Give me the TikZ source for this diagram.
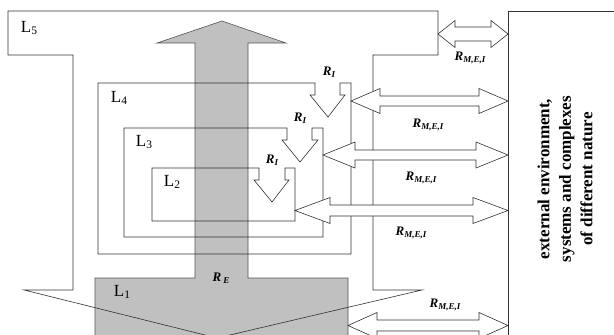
\documentclass[tikz,border=0pt]{standalone}
\usepackage{fontspec}
\setmainfont{Liberation Serif}
\definecolor{lin}{RGB}{50,50,50}
\definecolor{shade}{RGB}{192,192,192}
\definecolor{shadeline}{RGB}{85,85,85}
\tikzset{
  boxline/.style={draw=lin, line width=0.6pt},
  grayshape/.style={draw=shadeline, fill=shade, line width=0.6pt},
  dblarrow/.style={draw=lin, fill=white, line width=0.6pt},
  lvl/.style={inner sep=0pt, font=\fontsize{17}{17}\selectfont},
  rlab/.style={inner sep=0pt, font=\fontsize{13}{13}\selectfont\bfseries\itshape},
  envtext/.style={inner sep=0pt, rotate=90, align=center, font=\fontsize{17}{21.5}\selectfont\bfseries}
}
\newcommand\sbs[1]{\raisebox{-0.35ex}{\fontsize{9}{9}\selectfont #1}}
\newcommand\lsub[1]{\raisebox{-0.3ex}{\fontsize{11.5}{11.5}\selectfont #1}}
% double block arrow: x1, x2, yc, head length, head half height, shaft half height
\newcommand\dblarr[6]{%
  \draw[dblarrow] (#1,#3) -- ({#1+#4},{#3-#5}) -- ({#1+#4},{#3-#6}) -- ({#2-#4},{#3-#6})
   -- ({#2-#4},{#3-#5}) -- (#2,#3) -- ({#2-#4},{#3+#5}) -- ({#2-#4},{#3+#6})
   -- ({#1+#4},{#3+#6}) -- ({#1+#4},{#3+#5}) -- cycle;}
\begin{document}
\begin{tikzpicture}[x=1pt,y=-1pt]
\useasboundingbox (0,0) rectangle (614,335);
\begin{scope}
\clip (0,0) rectangle (614,335);
% big gray arrow with L1 block
\draw[grayshape] (222,21) -- (286,43) -- (248,43) -- (248,278) -- (348,278) -- (348,345)
  -- (95,345) -- (95,278) -- (195,278) -- (195,43) -- (157,43) -- cycle;
% L5 outline
\draw[boxline] (8,11) -- (438,11) -- (438,55) -- (373,55) -- (373,290) -- (422,290)
  -- (217,338) -- (24,290) -- (73,290) -- (73,55) -- (8,55) -- cycle;
% L4
\draw[boxline] (98,83) -- (315,83) -- (315,95) -- (310,95) -- (328,117) -- (345,95)
  -- (340,95) -- (340,83) -- (351,83) -- (351,254) -- (98,254) -- cycle;
% L3
\draw[boxline] (124,128) -- (287,128) -- (287,140) -- (282,140) -- (300,162) -- (318,140)
  -- (312,140) -- (312,128) -- (323,128) -- (323,237) -- (124,237) -- cycle;
% L2
\draw[boxline] (152,168) -- (259,168) -- (259,180) -- (254,180) -- (272,202) -- (289,180)
  -- (285,180) -- (285,168) -- (295,168) -- (295,221) -- (152,221) -- cycle;
% external environment box
\draw[boxline] (620,11) -- (508,11) -- (508,340);
% double arrows
\dblarr{438}{508}{34}{17}{13.5}{7}
\dblarr{351}{508}{101}{29}{12.5}{5}
\dblarr{323}{508}{155}{32}{13}{5}
\dblarr{295}{508}{210.5}{35}{13}{5.5}
\dblarr{348}{508}{325.5}{29}{13}{5.5}
\end{scope}
% labels
\node[lvl] (l5) at (29,28) {L\lsub{5}};
\node[lvl] (l4) at (119,98) {L\lsub{4}};
\node[lvl] (l3) at (144,142) {L\lsub{3}};
\node[lvl] (l2) at (172,182) {L\lsub{2}};
\node[lvl] (l1) at (122,292) {L\lsub{1}};
\node[rlab] (ri4) at (329,72) {R\sbs{I}};
\node[rlab] (ri3) at (300,118) {R\sbs{I}};
\node[rlab] (ri2) at (272,160) {R\sbs{I}};
\node[rlab] (re) at (221,278) {R\,\sbs{E}};
\node[rlab] (rm1) at (470,58) {R\sbs{M,E,I}};
\node[rlab] (rm2) at (428,125) {R\sbs{M,E,I}};
\node[rlab] (rm3) at (421,178) {R\sbs{M,E,I}};
\node[rlab] (rm4) at (411,233) {R\sbs{M,E,I}};
\node[rlab] (rm5) at (445,305) {R\sbs{M,E,I}};
\node[envtext] (env) at (565,179) {external environment,\\systems and complexes\\of different nature};
\end{tikzpicture}
\end{document}
